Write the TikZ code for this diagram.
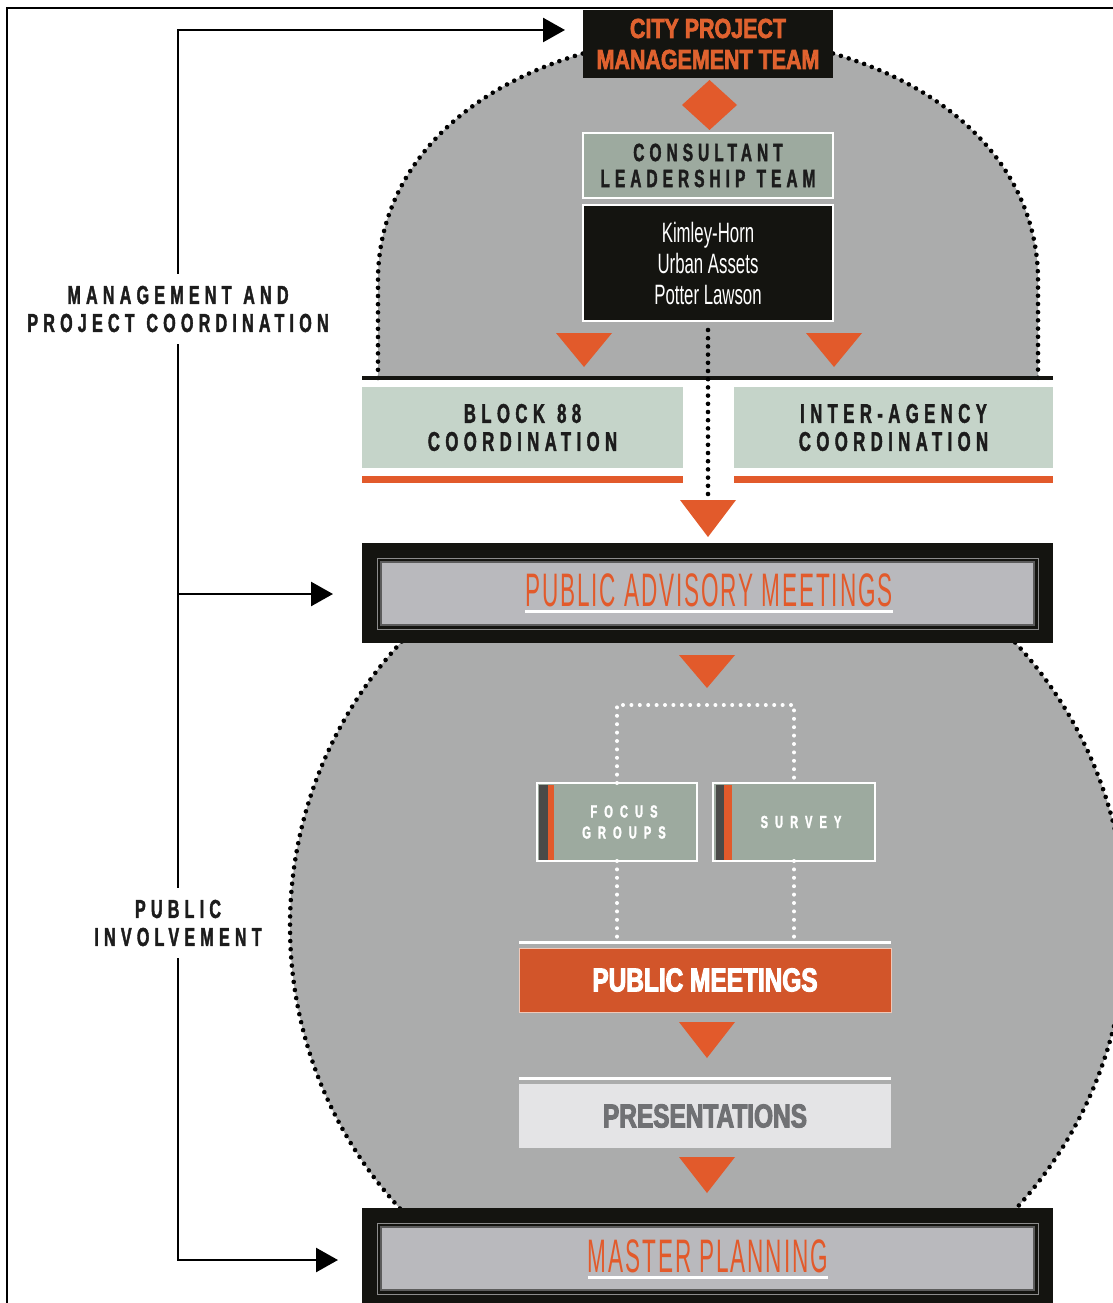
\documentclass[tikz,border=0pt]{standalone}
\usepackage{fontspec}
\usepackage{graphicx}
\usetikzlibrary{arrows.meta}
\setmainfont{Liberation Sans}
\newfontfamily\fCity[FakeStretch=0.78,BoldFeatures={FakeBold=2.5}]{Liberation Sans}
\newfontfamily\fHeavy[FakeStretch=0.74,BoldFeatures={FakeBold=3}]{Liberation Sans}
\newfontfamily\fLight[FakeStretch=0.48,LetterSpace=4]{Liberation Sans}
\newfontfamily\fNarrow[FakeStretch=0.6]{Liberation Sans}
\newfontfamily\fTrack[FakeStretch=0.62,LetterSpace=20,BoldFeatures={FakeBold=1.5}]{Liberation Sans}
\newfontfamily\fTrackW[FakeStretch=0.64,LetterSpace=40,BoldFeatures={FakeBold=1.5}]{Liberation Sans}
\newcommand\wsp{\hspace{0.45em}}
\definecolor{orng}{HTML}{E25A2B}
\definecolor{cityor}{HTML}{E0622F}
\definecolor{blk}{HTML}{141410}
\definecolor{dome}{HTML}{ABACAC}
\definecolor{pale}{HTML}{C5D4C9}
\definecolor{sage}{HTML}{9DAA9F}
\definecolor{pamgray}{HTML}{B9B9BD}
\definecolor{pmred}{HTML}{D2552A}
\definecolor{pmedge}{HTML}{F0C8B8}
\definecolor{presgray}{HTML}{E4E4E6}
\definecolor{prestext}{HTML}{707174}
\definecolor{darkstripe}{HTML}{4A4A48}
\definecolor{txtdark}{HTML}{1C1C1C}
\definecolor{edgedark}{HTML}{5C5C5C}
\definecolor{edgelight}{HTML}{8C8C8C}
\begin{document}
\begin{tikzpicture}[x=1pt,y=-1pt,
  dotblack/.style={draw=black, line width=4.6pt, line cap=round, dash pattern=on 0pt off 8.2pt},
  dotwhite/.style={draw=white, line width=4pt, line cap=round, dash pattern=on 0pt off 8.4pt},
  spine/.style={draw=black, line width=2.6pt},
  arr/.style={spine, -{Triangle[length=22pt,width=24pt]}},
  plain/.style={inner sep=0pt, outer sep=0pt},
  trklabel/.style={plain, align=center, text=txtdark},
  wideframe/.style={plain, fill=blk, minimum width=691pt},
  innerframe/.style={plain, fill=pamgray, draw=edgedark, line width=1.2pt, minimum width=653pt, minimum height=63pt},
  smallbox/.style={plain, fill=sage, draw=white, line width=2pt, minimum height=78pt},
  stepbar/.style={plain, minimum width=372pt, minimum height=64pt}
]
\useasboundingbox (0,0) rectangle (1113,1303);

% frame
\draw[line width=2pt] (7,1330) -- (7,8) -- (1140,8);

% upper dome
\fill[dome] (378,378) -- (378,280) .. controls (378,150) and (500,44) .. (708,33) .. controls (916,44) and (1038,150) .. (1038,280) -- (1038,378) -- cycle;
\draw[dotblack] (378,378) -- (378,280) .. controls (378,150) and (500,44) .. (708,33) .. controls (916,44) and (1038,150) .. (1038,280) -- (1038,378);

% lower circle
\begin{scope}
  \clip (0,643) rectangle (1113,1210);
  \fill[dome] (708,926) circle[radius=418pt];
  \draw[dotblack] (708,926) circle[radius=418pt];
\end{scope}

\draw[line width=4pt, blk] (362,378) -- (1053,378);

% city team
\node[plain, fill=blk, minimum width=250pt, minimum height=68pt, text=cityor, align=center,
      font=\fCity\bfseries\fontsize{27.5}{31}\selectfont] (city) at (708,44) {CITY PROJECT\\MANAGEMENT TEAM};
\fill[orng] (709.5,80) -- (737,105) -- (709.5,130) -- (682,105) -- cycle;

% consultant
\node[plain, fill=sage, draw=white, line width=2.5pt, minimum width=250pt, minimum height=65pt,
      text=txtdark, align=center, font=\fTrack\bfseries\fontsize{25}{26}\selectfont] (consult) at (708,165.5) {CONSULTANT\\LEADERSHIP\wsp TEAM};
\node[plain, fill=blk, draw=white, line width=2.5pt, minimum width=250pt, minimum height=116pt,
      text=white, align=center, font=\fNarrow\fontsize{28}{31}\selectfont] (kimley) at (708,263) {Kimley-Horn\\Urban Assets\\Potter Lawson};

\fill[orng] (556,333) -- (612,333) -- (584,367) -- cycle;
\fill[orng] (806,333) -- (862,333) -- (834,367) -- cycle;

% coordination boxes
\node[trklabel, fill=pale, minimum width=321pt, minimum height=81pt,
      font=\fTrack\bfseries\fontsize{27}{28}\selectfont] (block) at (522.5,427.5) {BLOCK\wsp 88\\COORDINATION};
\node[trklabel, fill=pale, minimum width=319pt, minimum height=81pt,
      font=\fTrack\bfseries\fontsize{27}{28}\selectfont] (inter) at (893.5,427.5) {INTER-AGENCY\\COORDINATION};
\fill[orng] ([yshift=-8pt]block.south west) rectangle ([yshift=-15pt]block.south east);
\fill[orng] ([yshift=-8pt]inter.south west) rectangle ([yshift=-15pt]inter.south east);

\coordinate (t3top) at (708,496);
\draw[dotblack] ([yshift=-9pt]kimley.south) -- (t3top);
\fill[orng] (680,500) -- (736,500) -- (708,537) -- cycle;

% public advisory meetings
\node[wideframe, minimum height=100pt] (pam) at (707.5,593) {};
\node[innerframe] (paminner) at (707.5,593.5) {};
\draw[edgelight, line width=1pt] ([shift={(-4,-4)}]paminner.north west) rectangle ([shift={(4,4)}]paminner.south east);
\node[plain, text=orng, anchor=base, font=\fLight\fontsize{47}{50}\selectfont] (pamtxt) at (709,606) {PUBLIC ADVISORY MEETINGS};
\draw[white, line width=3pt] ([yshift=-5pt]pamtxt.base west) -- ([yshift=-5pt]pamtxt.base east);

\fill[orng] (679,655) -- (735,655) -- (707,688) -- cycle;

% focus groups / survey
\node[smallbox, minimum width=160pt] (focus) at (617,822) {};
\node[smallbox, minimum width=162pt] (survey) at (794,822) {};
\fill[darkstripe] (538.5,784.5) rectangle (547.5,859.5);
\fill[orng] (547.5,784.5) rectangle (554,859.5);
\fill[darkstripe] (715.5,784.5) rectangle (724,859.5);
\fill[orng] (724,784.5) rectangle (731.5,859.5);
\node[plain, text=white, align=center, font=\fTrackW\bfseries\fontsize{17.5}{21}\selectfont] (focustxt) at (624,822) {FOCUS\\GROUPS};
\node[plain, text=white, align=center, font=\fTrackW\bfseries\fontsize{17.5}{21}\selectfont] (surveytxt) at (801,822) {SURVEY};

\coordinate (brtop) at (705,705);
\coordinate (brbot) at (705,938);
\draw[dotwhite] (focus.north) -- (focus.north |- brtop) -- (survey.north |- brtop) -- (survey.north);
\draw[dotwhite] (focus.south) -- (focus.south |- brbot);
\draw[dotwhite] (survey.south) -- (survey.south |- brbot);

% public meetings
\node[stepbar, fill=pmred, draw=pmedge, line width=1pt, text=white,
      font=\fHeavy\bfseries\fontsize{33}{34}\selectfont] (pm) at (705,980) {PUBLIC MEETINGS};
\draw[white, line width=3pt] ([yshift=6pt]pm.north west) -- ([yshift=6pt]pm.north east);
\fill[orng] (679,1022) -- (735,1022) -- (707,1058) -- cycle;

% presentations
\node[stepbar, fill=presgray, text=prestext,
      font=\fHeavy\bfseries\fontsize{33}{34}\selectfont] (pres) at (705,1116) {PRESENTATIONS};
\draw[white, line width=3pt] ([yshift=6pt]pres.north west) -- ([yshift=6pt]pres.north east);
\fill[orng] (679,1157) -- (735,1157) -- (707,1193) -- cycle;

% master planning
\node[wideframe, minimum height=110pt] (mp) at (707.5,1263) {};
\node[innerframe] (mpinner) at (707.5,1258.5) {};
\draw[edgelight, line width=1pt] ([shift={(-4,-4)}]mpinner.north west) rectangle ([shift={(4,4)}]mpinner.south east);
\node[plain, text=orng, anchor=base, font=\fLight\fontsize{47}{50}\selectfont] (mptxt) at (708,1272) {MASTER PLANNING};
\draw[white, line width=3pt] ([yshift=-5pt]mptxt.base west) -- ([yshift=-5pt]mptxt.base east);

% left spine
\node[trklabel, inner ysep=12pt, font=\fTrack\bfseries\fontsize{26}{28}\selectfont] (mgmt) at (178,309) {MANAGEMENT\wsp AND\\PROJECT\wsp COORDINATION};
\node[trklabel, inner ysep=12pt, font=\fTrack\bfseries\fontsize{26}{28}\selectfont] (pubinv) at (178,923) {PUBLIC\\INVOLVEMENT};
\coordinate (c1) at (178,30);
\coordinate (c2) at (178,594);
\coordinate (c3) at (178,1260);
\draw[arr, shorten >=18pt] (mgmt.north) -- (c1) -- (c1 -| city.west);
\draw[spine] (mgmt.south) -- (pubinv.north);
\draw[arr, shorten >=29pt] (c2) -- (c2 -| pam.west);
\draw[arr, shorten >=24pt] (pubinv.south) -- (c3) -- (c3 -| mp.west);
\end{tikzpicture}
\end{document}
